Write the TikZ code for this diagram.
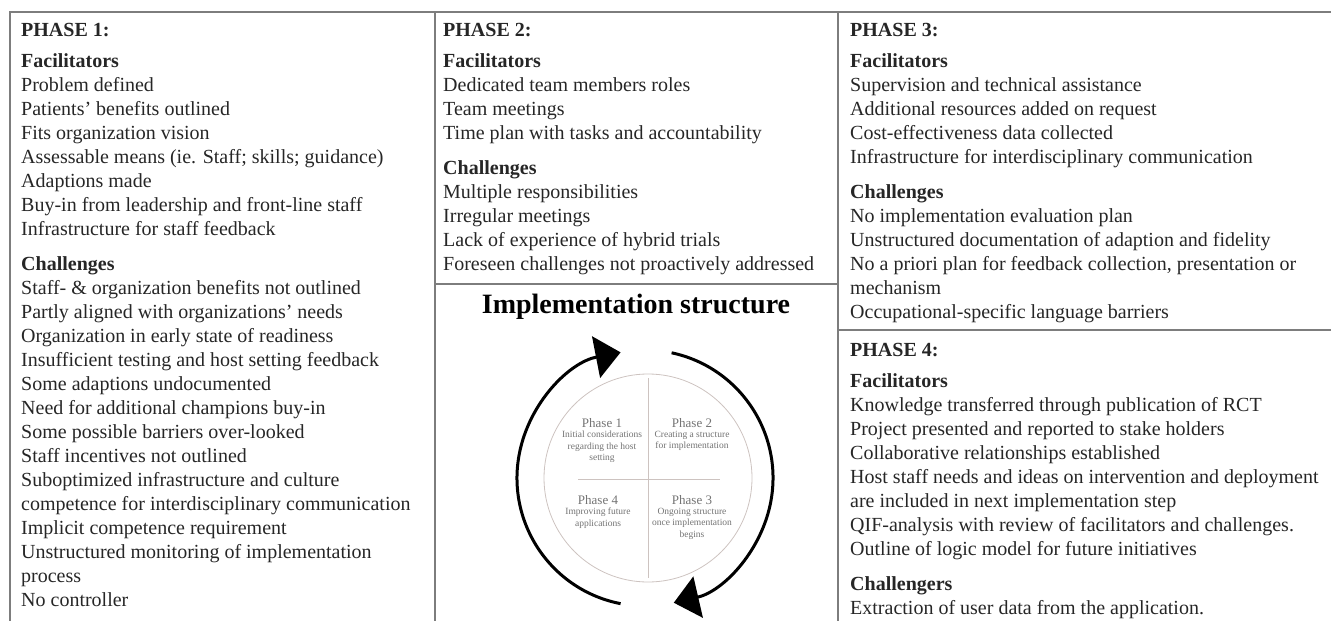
\documentclass[tikz,border=0pt]{standalone}
\usepackage{fontspec}
\setmainfont{Liberation Serif}
\usetikzlibrary{arrows.meta}
\usetikzlibrary{positioning}
\definecolor{framegray}{RGB}{125,125,125}
\definecolor{quadgray}{RGB}{205,195,192}

\begin{document}
\begin{tikzpicture}[x=1pt,y=1pt,
		panel/.style = {anchor=north west, align=left, inner sep=0pt, text=black!85, font=\fontsize{20}{24}\selectfont},
		qhead/.style = {inner sep=0pt, text=black!55, font=\fontsize{13}{14}\selectfont},
		qtext/.style = {inner sep=0pt, align=center, text=black!55, font=\fontsize{9.5}{11.5}\selectfont},
		cycarrow/.style = {line width=3pt, -{Triangle[length=25pt,width=42pt]}}]
				\useasboundingbox (0,0) rectangle (1331,-621);
				\draw [framegray,line width=1.5pt] (1331,-12) -- (10,-12) -- (10,-621);
				\draw [framegray,line width=1.5pt] (435,-12) -- (435,-621);
				\draw [framegray,line width=1.5pt] (838,-12) -- (838,-621);
				\draw [framegray,line width=1.5pt] (435,-284) -- (838,-284);
				\draw [framegray,line width=1.5pt] (838,-330) -- (1331,-330);
				\begin{scope}[every node/.style={panel}]
					\node (p1) at (21,-23) {\textbf{PHASE 1:}\\[7pt]
						\textbf{Facilitators}\\
						Problem defined\\
						Patients' benefits outlined\\
						Fits organization vision\\
						Assessable means (ie. Staff; skills; guidance)\\
						Adaptions made\\
						Buy-in from leadership and front-line staff\\
						Infrastructure for staff feedback\\[11pt]
						\textbf{Challenges}\\
						Staff- \& organization benefits not outlined\\
						Partly aligned with organizations' needs\\
						Organization in early state of readiness\\
						Insufficient testing and host setting feedback\\
						Some adaptions undocumented\\
						Need for additional champions buy-in\\
						Some possible barriers over-looked\\
						Staff incentives not outlined\\
						Suboptimized infrastructure and culture\\
						competence for interdisciplinary communication\\
						Implicit competence requirement\\
						Unstructured monitoring of implementation\\
						process\\
						No controller};
					\node (p2) at (443,-23) {\textbf{PHASE 2:}\\[7pt]
						\textbf{Facilitators}\\
						Dedicated team members roles\\
						Team meetings\\
						Time plan with tasks and accountability\\[11pt]
						\textbf{Challenges}\\
						Multiple responsibilities\\
						Irregular meetings\\
						Lack of experience of hybrid trials\\
						Foreseen challenges not proactively addressed};
					\node (p3) at (850,-23) {\textbf{PHASE 3:}\\[7pt]
						\textbf{Facilitators}\\
						Supervision and technical assistance\\
						Additional resources added on request\\
						Cost-effectiveness data collected\\
						Infrastructure for interdisciplinary communication\\[11pt]
						\textbf{Challenges}\\
						No implementation evaluation plan\\
						Unstructured documentation of adaption and fidelity\\
						No a priori plan for feedback collection, presentation or\\
						mechanism\\
						Occupational-specific language barriers};
					\node (p4) at (850,-343) {\textbf{PHASE 4:}\\[7pt]
						\textbf{Facilitators}\\
						Knowledge transferred through publication of RCT\\
						Project presented and reported to stake holders\\
						Collaborative relationships established\\
						Host staff needs and ideas on intervention and deployment\\
						are included in next implementation step\\
						QIF-analysis with review of facilitators and challenges.\\
						Outline of logic model for future initiatives\\[11pt]
						\textbf{Challengers}\\
						Extraction of user data from the application.};
				\end{scope}
				\node [inner sep=0pt,font=\fontsize{28}{30}\selectfont\bfseries] (impl) at (636,-307) {Implementation structure};
				\coordinate (cyc) at (645,-478);
				\draw [quadgray,line width=0.8pt] (648,-478) circle [radius=104];
				\draw [quadgray,line width=0.8pt] (648,-378) -- (648,-578);
				\draw [quadgray,line width=0.8pt] (578,-479) -- (720,-479);
				\draw [cycarrow] ([shift={(259:128)}]cyc) arc [start angle=259, end angle=101, radius=128];
				\draw [cycarrow] ([shift={(78:128)}]cyc) arc [start angle=78, end angle=-77, radius=128];
				\node [qhead] (q1) at (602,-423) {Phase 1};
				\node [qtext,below=3pt of q1] (q1t) {Initial considerations\\regarding the host\\setting};
				\node [qhead] (q2) at (692,-423) {Phase 2};
				\node [qtext,below=3pt of q2] (q2t) {Creating a structure\\for implementation};
				\node [qhead] (q4) at (598,-500) {Phase 4};
				\node [qtext,below=3pt of q4] (q4t) {Improving future\\applications};
				\node [qhead] (q3) at (692,-500) {Phase 3};
				\node [qtext,below=3pt of q3] (q3t) {Ongoing structure\\once implementation\\begins};
			\end{tikzpicture}
\end{document}
